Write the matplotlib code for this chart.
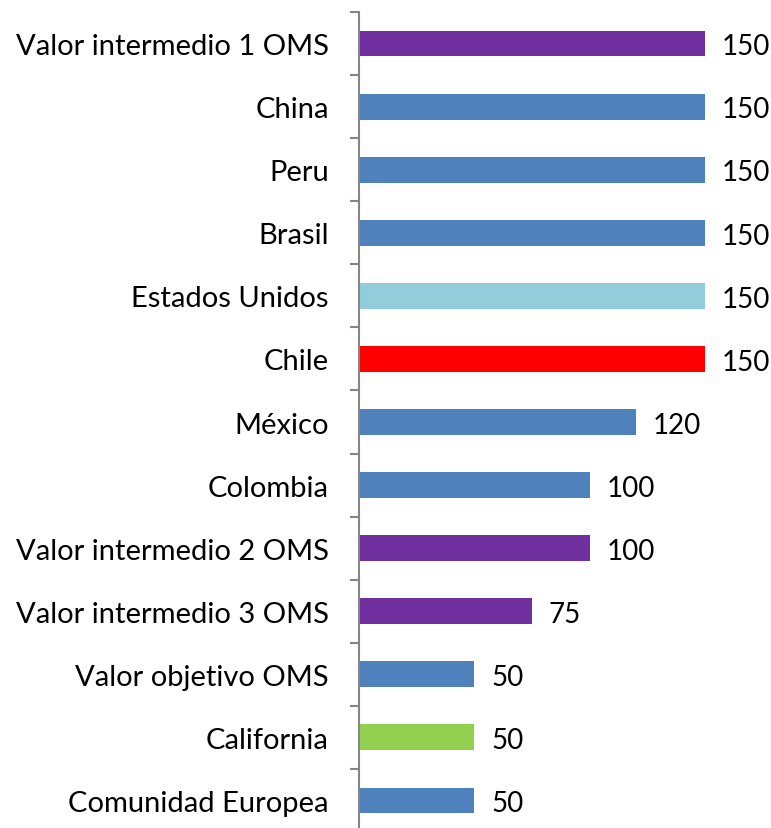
import matplotlib
matplotlib.use("Agg")
import matplotlib.pyplot as plt
from matplotlib.ticker import FixedLocator

categories = ["Valor intermedio 1 OMS", "China", "Peru", "Brasil", "Estados Unidos",
              "Chile", "México", "Colombia", "Valor intermedio 2 OMS",
              "Valor intermedio 3 OMS", "Valor objetivo OMS", "California",
              "Comunidad Europea"]
values = [150, 150, 150, 150, 150, 150, 120, 100, 100, 75, 50, 50, 50]
colors = ["#7030A0", "#4F81BD", "#4F81BD", "#4F81BD", "#92CDDC", "#FF0000",
          "#4F81BD", "#4F81BD", "#7030A0", "#7030A0", "#4F81BD", "#92D050",
          "#4F81BD"]

plt.rcParams['font.family'] = ['Lato', 'DejaVu Sans']
W, H = 771, 829
fig = plt.figure(figsize=(W / 100, H / 100), dpi=100)
left = 358.7 / W
bottom = -4 / H
top = 1 - 13 / H
ax = fig.add_axes([left, bottom, 1 - left, top - bottom])

n = len(categories)
ypos = list(range(n))
ax.barh(ypos, values, height=0.41, color=colors, zorder=2)
ax.set_ylim(n - 0.5, -0.5)
ax.set_xlim(0, (W - 358.7) / 2.309)

ax.set_yticks(ypos)
ax.set_yticklabels(categories, fontsize=21, color="#000000")
ax.tick_params(axis='y', which='major', length=0, pad=21.6)
ax.yaxis.set_minor_locator(FixedLocator([i - 0.5 for i in range(n + 1)]))
ax.tick_params(axis='y', which='minor', length=6.5, width=1.5, color="#868686")
ax.set_xticks([])

for s in ["top", "right", "bottom"]:
    ax.spines[s].set_visible(False)
ax.spines["left"].set_color("#868686")
ax.spines["left"].set_linewidth(1.5)

for y, v in zip(ypos, values):
    ax.annotate(str(v), (v, y), xytext=(12.2, -2), textcoords="offset points",
                ha="left", va="center", fontsize=20, color="#000000",
                annotation_clip=False)

fig.savefig("out.png", dpi=100)
